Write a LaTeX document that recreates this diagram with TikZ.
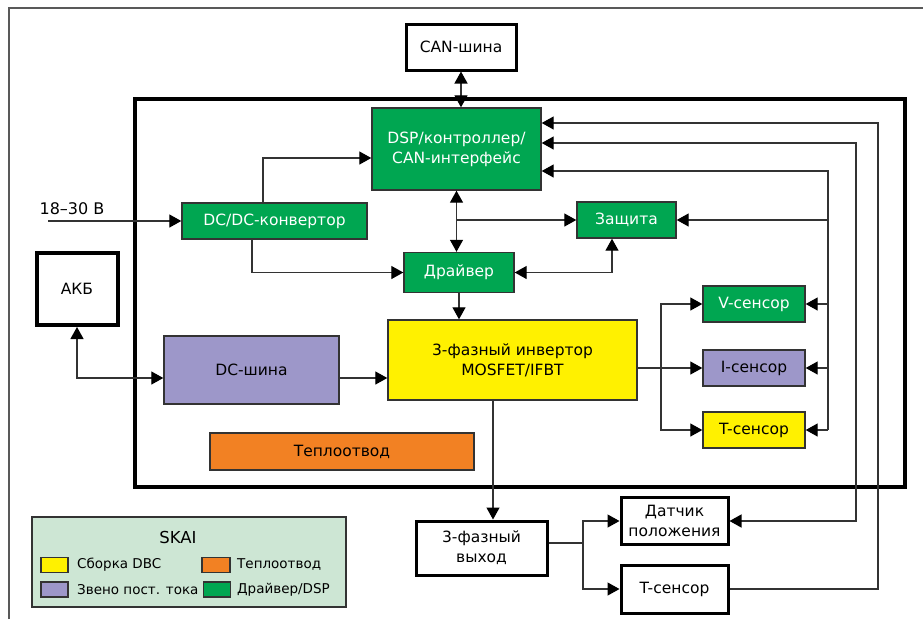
\documentclass[tikz,border=0pt]{standalone}
\usepackage{fontspec}
\setmainfont{DejaVu Sans}
\usetikzlibrary{arrows.meta,positioning,calc}
\definecolor{skaigreen}{HTML}{00A651}
\definecolor{skaipurple}{HTML}{9D97C9}
\definecolor{skaiyellow}{HTML}{FFF100}
\definecolor{skaiorange}{HTML}{F28123}
\definecolor{legendbg}{HTML}{CDE6D4}
\definecolor{linegray}{HTML}{333333}
\newcommand{\DriverColor}{skaigreen}
\newcommand{\DcLinkColor}{skaipurple}
\newcommand{\AssemblyColor}{skaiyellow}
\newcommand{\HeatSinkColor}{skaiorange}
\newcommand{\LegendColor}{legendbg}

\begin{document}
\begin{tikzpicture}[
	% Define styles and settings
	x=1pt, y=-1pt,
	font=\fontsize{15.5}{20}\selectfont,
	block/.style={rectangle, draw=linegray, line width=1.4pt, text centered, align=center, inner sep=0pt},
	frame/.style={rectangle, draw=black, line width=3pt, fill=white, text centered, align=center, inner sep=0pt},
	swatch/.style={rectangle, draw=linegray, line width=1.2pt, minimum height=15, inner sep=0pt},
	legendtext/.style={anchor=west, inner sep=0pt, font=\fontsize{13.5}{16}\selectfont},
	tip/.style={Triangle[length=12pt,width=13pt,fill=black,color=black]},
	arrow/.style={-{Triangle[length=12pt,width=13pt,color=black]}, line width=1.3pt, draw=linegray},
	both/.style={{Triangle[length=12pt,width=13pt,color=black]}-{Triangle[length=12pt,width=13pt,color=black]}, line width=1.3pt, draw=linegray},
	wire/.style={line width=1.3pt, draw=linegray}
	]
	\useasboundingbox (0,0) rectangle (923,619);
	% \draw[help lines] (0,0) grid (923,619);

	\draw[draw=black!65, line width=1.5pt] (9,619) -- (9,8) -- (923,8);
	\draw[line width=4.5pt] (135,99) rectangle (905,487);

	\draw (461,47) node[frame, minimum width=110, minimum height=46] (CanBus) {CAN-шина};

	\draw (456.5,149) node[block, fill=\DriverColor, text=white, minimum width=169, minimum height=82] (Dsp) {DSP/контроллер/\\CAN-интерфейс};
	\draw (274.5,221) node[block, fill=\DriverColor, text=white, minimum width=185, minimum height=36] (DcDc) {DC/DC-конвертор};
	\draw (626.5,220) node[block, fill=\DriverColor, text=white, minimum width=99, minimum height=36] (Protection) {Защита};
	\draw (459,272.5) node[block, fill=\DriverColor, text=white, minimum width=110, minimum height=40] (Driver) {Драйвер};

	\draw (77,289) node[frame, line width=4pt, minimum width=81, minimum height=72] (Battery) {АКБ};
	\draw (251.5,370) node[block, fill=\DcLinkColor, minimum width=175, minimum height=68] (DcBus) {DC-шина};
	\draw (512.5,360) node[block, fill=\AssemblyColor, minimum width=249, minimum height=80] (Inverter) {3-фазный инвертор\\MOSFET/IFBT};
	\draw (342,451.5) node[block, fill=\HeatSinkColor, minimum width=264, minimum height=37] (HeatSink) {Теплоотвод};

	\draw (754,304) node[block, fill=\DriverColor, text=white, minimum width=102, minimum height=36] (VSensor) {V-сенсор};
	\draw (754,368) node[block, fill=\DcLinkColor, minimum width=102, minimum height=36] (ISensor) {I-сенсор};
	\draw (754,430) node[block, fill=\AssemblyColor, minimum width=102, minimum height=36] (TSensorIn) {T-сенсор};

	\draw (481.5,548) node[frame, minimum width=131, minimum height=54] (Output) {3-фазный\\выход};
	\draw (674.5,521) node[frame, minimum width=107, minimum height=47] (PosSensor) {Датчик\\положения};
	\draw (674.5,589) node[frame, minimum width=107, minimum height=48] (TSensorOut) {T-сенсор};

	% supply and battery
	\coordinate (SupplyIn) at (48,221);
	\draw (72,209) node[inner sep=0pt, font=\fontsize{16}{20}\selectfont] (SupplyLabel) {18--30 В};
	\draw[arrow] (SupplyIn) -- (DcDc.west);
	\draw[arrow] ($(DcDc.north)+(-11.5,0)$) |- ($(Dsp.west)+(0,9)$);
	\draw[arrow] ($(DcDc.south)+(-22.5,0)$) |- (Driver.west);

	\coordinate (DcLevel) at (0,378);
	\draw[both] (Battery.south) |- (DcBus.west |- DcLevel);
	\draw[arrow] (DcBus.east |- DcLevel) -- (Inverter.west |- DcLevel);

	% controller, driver, protection
	\draw[both] (CanBus.south) -- (CanBus.south |- Dsp.north);
	\draw[both] (Dsp.south) -- (Dsp.south |- Driver.north);
	\draw[arrow] (Dsp.south |- Protection.west) -- (Protection.west);
	\coordinate (DrvProt) at (612,272.5);
	\draw[both] (Driver.east) -- (DrvProt) -- (DrvProt |- Protection.south);
	\draw[arrow] (Driver.south) -- (Driver.south |- Inverter.north);

	% inverter to sensors
	\coordinate (Fork) at (661,368);
	\draw[arrow] (Inverter.east |- Fork) -- (ISensor.west);
	\draw[arrow] (Fork) |- (VSensor.west);
	\draw[arrow] (Fork) |- (TSensorIn.west);

	% sensor feedback to the controller
	\coordinate (BusA) at (828,171);
	\coordinate (BusAEnd) at (828,430);
	\draw[arrow] (BusAEnd) -- (BusA) -- (Dsp.east |- BusA);
	\draw[arrow] (BusA |- Protection) -- (Protection.east);
	\draw[arrow] (BusA |- VSensor) -- (VSensor.east);
	\draw[arrow] (BusA |- ISensor) -- (ISensor.east);
	\draw[arrow] (BusAEnd) -- (TSensorIn.east);

	\coordinate (BusB) at (856,143);
	\draw[both] (Dsp.east |- BusB) -- (BusB) |- (PosSensor.east);
	\coordinate (BusC) at (878,123);
	\draw[arrow] (TSensorOut.east) -| (BusC) -- (Dsp.east |- BusC);

	% output side
	\coordinate (OutLine) at (493,0);
	\draw[arrow] (Inverter.south -| OutLine) -- (Output.north -| OutLine);
	\coordinate (OutFork) at (583,543);
	\draw[wire] (Output.east |- OutFork) -- (OutFork);
	\draw[arrow] (OutFork) |- (PosSensor.west);
	\draw[arrow] (OutFork) |- (TSensorOut.west);

	% legend
	\draw (189,562) node[block, fill=\LegendColor, minimum width=314, minimum height=90] (Legend) {};
	\draw (178,537) node[inner sep=0pt, font=\fontsize{16.5}{20}\selectfont] (LegendTitle) {SKAI};
	\draw (54.5,565) node[swatch, fill=\AssemblyColor, minimum width=27] (SwatchDbc) {};
	\draw (54.5,589.5) node[swatch, fill=\DcLinkColor, minimum width=27] (SwatchDcLink) {};
	\draw (216,565) node[swatch, fill=\HeatSinkColor, minimum width=28] (SwatchHeat) {};
	\draw (217,589.5) node[swatch, fill=\DriverColor, minimum width=27] (SwatchDriver) {};
	\draw (77,565) node[legendtext] (TextDbc) {Сборка DBC};
	\draw (77,589.5) node[legendtext] (TextDcLink) {Звено пост. тока};
	\draw (237,565) node[legendtext] (TextHeat) {Теплоотвод};
	\draw (237,589.5) node[legendtext] (TextDriver) {Драйвер/DSP};

\end{tikzpicture}
\end{document}
